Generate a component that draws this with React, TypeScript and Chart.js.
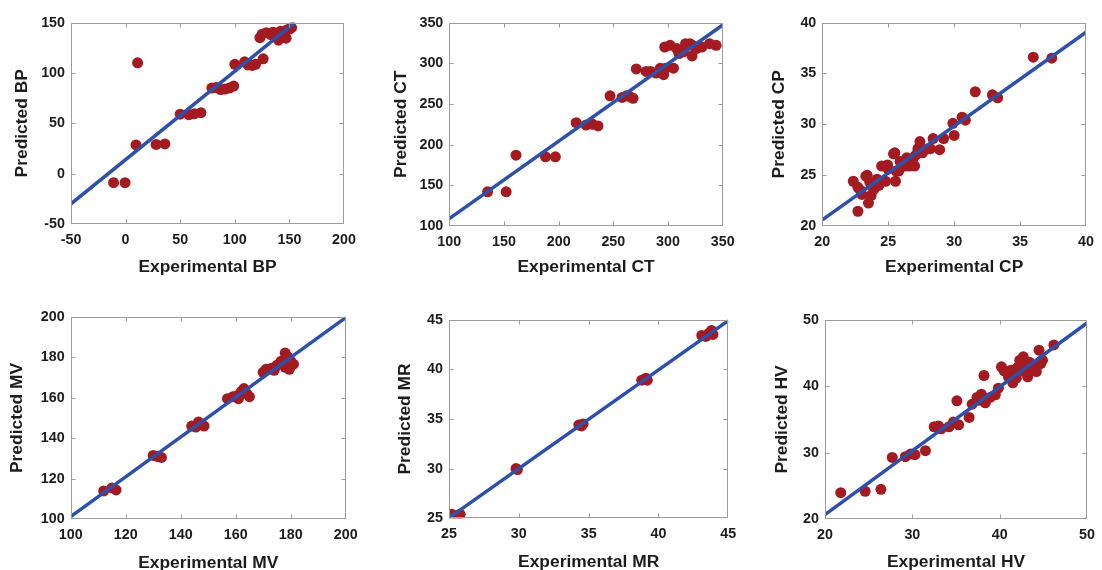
import React, { useEffect, useRef } from "react";
import { Chart, registerables } from "chart.js";
Chart.register(...registerables);

// ---------------- DATA ----------------
const bpExp = [-11, -0.5, 11, 9.5, 28, 36, 50, 58, 63, 69, 79, 83, 87, 91, 95, 99, 100, 109, 112, 116, 119, 126, 123, 125, 129, 133, 135, 138, 140, 142, 145, 147, 148, 150, 152, 144];
const bpPred = [-9, -9, 110, 28.5, 29, 29.5, 59, 58.5, 59.5, 60.5, 85, 85.5, 83.5, 84, 85, 87, 108.5, 111, 108, 107.5, 108.5, 114, 135, 138.5, 140, 138, 140.5, 136, 132.5, 141.5, 138, 134.5, 143, 143.5, 145, 136];
const bpFitX = [-50, 155];
const bpFitY = [-30, 150];
const bpXTicks = [-50, 0, 50, 100, 150, 200];
const bpYTicks = [-50, 0, 50, 100, 150];

const ctExp = [135, 152, 161, 188, 197, 216, 225, 231, 236, 247, 258, 262, 265, 268, 271, 280, 284, 289, 293, 296, 298, 305, 297, 302, 308, 314, 322, 320, 322, 331, 338, 344, 316, 326, 310];
const ctPred = [142, 142, 187, 185, 185, 227, 224, 225, 223, 260, 258, 260, 259, 257, 293, 290, 290, 288, 294, 286, 294, 294, 320, 322, 318, 314, 322, 324, 309, 320, 324, 322, 324, 318, 312];
const ctFitX = [100, 350];
const ctFitY = [109, 347];
const ctXTicks = [100, 150, 200, 250, 300, 350];
const ctYTicks = [100, 150, 200, 250, 300, 350];

const cpExp = [22.7, 22.35, 22.7, 23.0, 23.4, 23.5, 23.7, 23.9, 24.15, 24.5, 24.8, 24.95, 25.5, 25.55, 25.6, 25.9, 26.4, 26.6, 26.9, 27.0, 27.25, 27.4, 27.6, 28.4, 28.2, 28.9, 29.2, 29.9, 30.0, 30.6, 30.85, 31.6, 32.9, 33.3, 36.0, 37.4, 23.3, 24.05, 25.4, 26.3, 26.8, 28.0, 24.3, 25.0, 25.8, 27.1, 22.9, 23.6];
const cpPred = [21.45, 24.4, 23.8, 23.1, 25.0, 22.25, 23.0, 23.6, 24.6, 25.9, 24.4, 26.0, 27.2, 24.4, 25.4, 26.35, 26.7, 25.9, 26.7, 25.9, 27.6, 28.3, 27.2, 28.6, 27.6, 27.5, 28.6, 30.1, 28.9, 30.7, 30.4, 33.2, 32.9, 32.6, 36.6, 36.5, 24.9, 23.9, 27.1, 25.9, 26.5, 27.6, 24.0, 25.6, 25.4, 27.0, 23.5, 24.3];
const cpFitX = [20, 40];
const cpFitY = [20.6, 39.05];
const cpXTicks = [20, 25, 30, 35, 40];
const cpYTicks = [20, 25, 30, 35, 40];

const mvExp = [112, 115, 116.5, 130, 131.5, 133, 144, 146.5, 148.5, 145.5, 157, 159, 160.5, 162, 163, 164, 165, 161, 170, 171, 173, 174, 175, 176.5, 178, 179, 178, 180, 181, 179.5];
const mvPred = [114, 115.5, 114.5, 131.5, 131, 130.5, 146, 148, 146, 145.5, 159.5, 160.5, 161, 163, 164.5, 162, 160.5, 159.5, 172.5, 174, 174.5, 173.5, 176, 178, 182, 180, 175, 178, 176.5, 174];
const mvFitX = [100, 200];
const mvFitY = [101.3, 199.5];
const mvXTicks = [100, 120, 140, 160, 180, 200];
const mvYTicks = [100, 120, 140, 160, 180, 200];

const mrExp = [25.2, 25.6, 25.8, 29.9, 29.8, 34.3, 34.6, 34.5, 38.8, 39.1, 39.2, 43.1, 43.4, 43.6, 43.8, 43.9];
const mrPred = [25.4, 25.3, 25.4, 29.9, 30.0, 34.4, 34.5, 34.3, 38.9, 39.1, 38.9, 43.4, 43.3, 43.6, 43.9, 43.5];
const mrFitX = [25, 45];
const mrFitY = [25.05, 44.9];
const mrXTicks = [25, 30, 35, 40, 45];
const mrYTicks = [25, 30, 35, 40, 45];

const hvExp = [21.8, 24.6, 26.4, 27.7, 29.2, 30.3, 31.5, 32.5, 33.0, 34.2, 34.7, 35.3, 35.1, 36.5, 36.85, 37.4, 37.9, 38.2, 38.35, 38.9, 39.5, 39.85, 40.2, 41.0, 41.3, 41.5, 41.9, 42.3, 42.7, 42.85, 43.2, 43.8, 44.2, 44.5, 44.9, 46.2, 42.1, 43.4, 41.7, 43.6, 44.7, 29.8, 33.3, 37.6, 40.5, 42.5];
const hvPred = [24.0, 24.2, 24.5, 29.3, 29.4, 29.7, 30.3, 33.9, 34.0, 33.9, 34.6, 34.2, 37.8, 35.3, 37.3, 38.3, 38.8, 41.6, 37.5, 38.3, 38.7, 39.7, 42.9, 41.4, 42.4, 40.5, 41.2, 43.9, 44.4, 42.2, 41.4, 43.1, 42.2, 45.4, 43.9, 46.2, 42.9, 43.6, 41.9, 42.4, 43.4, 29.8, 33.6, 37.9, 42.3, 43.3];
const hvFitX = [20, 50];
const hvFitY = [20.7, 49.5];
const hvXTicks = [20, 30, 40, 50];
const hvYTicks = [20, 30, 40, 50];

// ---------------- STYLE ----------------
const RED = "#A31B21";
const BLUE = "#2D50AD";
const TEXT = "#1c1c1c";
const FRAME = "#9c9c9c";
const FONT = '"Liberation Sans", Arial, sans-serif';

type PanelDef = {
  name: string;
  exp: number[]; pred: number[];
  fitX: number[]; fitY: number[];
  xTicks: number[]; yTicks: number[];
  L: number; T: number; R: number; B: number;
  wy: number; hx: number; padR: number;
};

const panels: PanelDef[] = [
  { name: "BP", exp: bpExp, pred: bpPred, fitX: bpFitX, fitY: bpFitY, xTicks: bpXTicks, yTicks: bpYTicks, L: 71, T: 18.3, R: 344, B: 224, wy: 58.1, hx: 53.1, padR: 20 },
  { name: "CT", exp: ctExp, pred: ctPred, fitX: ctFitX, fitY: ctFitY, xTicks: ctXTicks, yTicks: ctYTicks, L: 449.3, T: 18.3, R: 722.7, B: 226, wy: 57.7, hx: 51.4, padR: 20 },
  { name: "CP", exp: cpExp, pred: cpPred, fitX: cpFitX, fitY: cpFitY, xTicks: cpXTicks, yTicks: cpYTicks, L: 822.3, T: 18.3, R: 1091.7, B: 226, wy: 52.4, hx: 52, padR: 9 },
  { name: "MV", exp: mvExp, pred: mvPred, fitX: mvFitX, fitY: mvFitY, xTicks: mvXTicks, yTicks: mvYTicks, L: 70.7, T: 312.7, R: 345.7, B: 519.3, wy: 63.1, hx: 54.4, padR: 20 },
  { name: "MR", exp: mrExp, pred: mrPred, fitX: mrFitX, fitY: mrFitY, xTicks: mrXTicks, yTicks: mrYTicks, L: 449, T: 315, R: 728.3, B: 518.3, wy: 53.7, hx: 54.4, padR: 20 },
  { name: "HV", exp: hvExp, pred: hvPred, fitX: hvFitX, fitY: hvFitY, xTicks: hvXTicks, yTicks: hvYTicks, L: 825, T: 315, R: 1092.3, B: 519.3, wy: 52.1, hx: 53.4, padR: 9 },
];

const framePlugin = {
  id: "matlabFrame",
  afterDraw(chart: any) {
    const { ctx, chartArea: a, scales } = chart;
    ctx.save();
    ctx.strokeStyle = FRAME;
    ctx.lineWidth = 1;
    const l = Math.round(a.left) + 0.5, r = Math.round(a.right) - 0.5;
    const t = Math.round(a.top) + 0.5, b = Math.round(a.bottom) - 0.5;
    ctx.strokeRect(l, t, r - l, b - t);
    const len = 4;
    ctx.beginPath();
    const xs = scales.x.ticks;
    for (let i = 1; i < xs.length - 1; i++) {
      const px = Math.round(scales.x.getPixelForValue(xs[i].value)) + 0.5;
      ctx.moveTo(px, b); ctx.lineTo(px, b - len);
      ctx.moveTo(px, t); ctx.lineTo(px, t + len);
    }
    const ys = scales.y.ticks;
    for (let i = 1; i < ys.length - 1; i++) {
      const py = Math.round(scales.y.getPixelForValue(ys[i].value)) + 0.5;
      ctx.moveTo(l, py); ctx.lineTo(l + len, py);
      ctx.moveTo(r, py); ctx.lineTo(r - len, py);
    }
    ctx.stroke();
    ctx.restore();
  },
};

function Panel({ p }: { p: PanelDef }) {
  const ref = useRef<HTMLCanvasElement | null>(null);
  const cLeft = Math.floor(p.L - p.wy);
  const cTop = Math.floor(p.T - 10);
  const cW = Math.ceil(p.R - cLeft + p.padR);
  const cH = Math.ceil(p.B - cTop + p.hx);
  const yW = p.L - cLeft;
  const padTop = p.T - cTop;
  const padRight = cW - (p.R - cLeft);
  const xH = cH - (p.B - cTop);

  useEffect(() => {
    if (!ref.current) return;
    const pts = p.exp.map((x, i) => ({ x, y: p.pred[i] }));
    const fit = p.fitX.map((x, i) => ({ x, y: p.fitY[i] }));
    const tickFont = { family: FONT, size: 14.3, weight: "bold" as const };
    const titleFont = { family: FONT, size: 17.4, weight: "bold" as const };
    const chart = new Chart(ref.current, {
      type: "scatter",
      data: {
        datasets: [
          {
            data: fit,
            showLine: true,
            borderColor: BLUE,
            borderWidth: 3.5,
            pointRadius: 0,
            pointHoverRadius: 0,
            order: 0,
          } as any,
          {
            data: pts,
            pointRadius: 5.5,
            pointHoverRadius: 5.5,
            pointBackgroundColor: RED,
            pointBorderColor: RED,
            pointBorderWidth: 0,
            order: 1,
          } as any,
        ],
      },
      options: {
        animation: false,
        responsive: true,
        maintainAspectRatio: false,
        devicePixelRatio: 1,
        events: [],
        layout: { padding: { left: 0, top: padTop, right: padRight, bottom: 0 } },
        plugins: { legend: { display: false }, tooltip: { enabled: false } },
        scales: {
          x: {
            type: "linear",
            min: p.xTicks[0],
            max: p.xTicks[p.xTicks.length - 1],
            grid: { display: false, drawTicks: false },
            border: { display: false },
            ticks: { padding: 7, color: TEXT, font: tickFont, autoSkip: false, maxRotation: 0, minRotation: 0 },
            afterBuildTicks: (s: any) => { s.ticks = p.xTicks.map((v) => ({ value: v })); },
            afterFit: (s: any) => { s.height = xH; },
            title: { display: true, text: "Experimental " + p.name, padding: 0, color: TEXT, font: titleFont },
          },
          y: {
            type: "linear",
            min: p.yTicks[0],
            max: p.yTicks[p.yTicks.length - 1],
            grid: { display: false, drawTicks: false },
            border: { display: false },
            ticks: { padding: 6, color: TEXT, font: tickFont, autoSkip: false },
            afterBuildTicks: (s: any) => { s.ticks = p.yTicks.map((v) => ({ value: v })); },
            afterFit: (s: any) => { s.width = yW; },
            title: { display: true, text: "Predicted " + p.name, padding: 0, color: TEXT, font: titleFont },
          },
        },
      } as any,
      plugins: [framePlugin],
    });
    return () => chart.destroy();
  }, []);

  return (
    <div style={{ position: "absolute", left: cLeft, top: cTop, width: cW, height: cH }}>
      <canvas ref={ref} />
    </div>
  );
}

export default function App() {
  return (
    <div style={{ position: "fixed", left: 0, top: 0, width: 1102, height: 570, overflow: "hidden", background: "#ffffff" }}>
      {panels.map((p) => (
        <Panel key={p.name} p={p} />
      ))}
    </div>
  );
}
